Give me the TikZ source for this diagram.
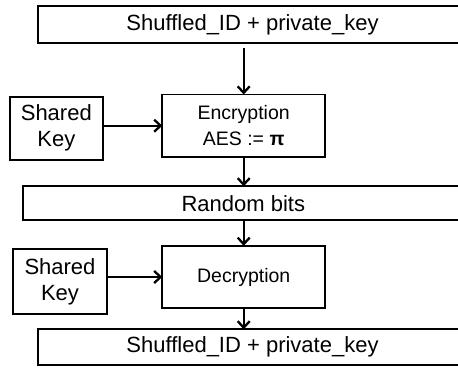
\documentclass[tikz,border=0pt]{standalone}
\usepackage{fontspec}
\setmainfont{Liberation Sans}
\usetikzlibrary{arrows.meta}
\tikzset{
  blk/.style={draw, line width=1.8pt, inner sep=0pt, outer sep=0pt, align=center},
  bigtxt/.style={font=\fontsize{22}{26}\selectfont},
  midtxt/.style={font=\fontsize{19.5}{26}\selectfont},
  flow/.style={line width=1.8pt, -{Straight Barb[length=6.5pt,width=12pt,line width=2.3pt]}}
}
\begin{document}
\begin{tikzpicture}[x=1pt,y=-1pt]
  \clip (0,0) rectangle (458,367);
  % wide bands (running off the right edge)
  \node[blk, bigtxt, minimum width=429.6pt, minimum height=36.7pt] (src) at (252.5,24.35) {Shuffled\_ID + private\_key};
  \node[blk, bigtxt, minimum width=440pt, minimum height=34pt] (rnd) at (243.3,203.3) {Random bits};
  \node[blk, bigtxt, minimum width=429.6pt, minimum height=35.7pt] (dst) at (252.5,347.2) {Shuffled\_ID + private\_key};
  % processing blocks
  \node[blk, midtxt, minimum width=162.7pt, minimum height=62.4pt] (enc) at (243.7,125.7) {Encryption\\AES := {\bfseries π}};
  \node[blk, midtxt, minimum width=162.7pt, minimum height=62.4pt] (dec) at (243.7,277) {Decryption};
  % key inputs
  \node[blk, bigtxt, minimum width=92.7pt, minimum height=63.3pt] (keyA) at (56.3,128.3) {Shared\\Key};
  \node[blk, bigtxt, minimum width=93.3pt, minimum height=64.7pt] (keyB) at (60,281.7) {Shared\\Key};
  % connectors
  \draw[flow, shorten <=5pt] (enc.north |- src.south) -- (enc.north);
  \draw[flow] (keyA.east |- enc.west) -- (enc.west);
  \draw[flow] (enc.south) -- (enc.south |- rnd.north);
  \draw[flow] (dec.north |- rnd.south) -- (dec.north);
  \draw[flow] (keyB.east |- dec.west) -- (dec.west);
  \draw[flow] (dec.south) -- (dec.south |- dst.north);
\end{tikzpicture}
\end{document}
